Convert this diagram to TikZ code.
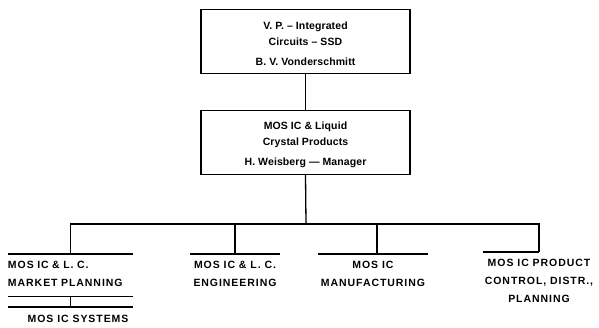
\documentclass[tikz,border=0pt]{standalone}
\usepackage{fontspec}
\newfontfamily\unitfont[LetterSpace=9]{Liberation Sans Bold}
\newfontfamily\headfont[LetterSpace=1]{Liberation Sans Bold}
\newcommand{\topstrut}{\rule{0pt}{13pt}}
\begin{document}
\begin{tikzpicture}[x=1pt,y=-1pt,
  every node/.style={inner sep=0pt},
  headbox/.style={draw, line width=1.3pt, minimum width=209pt, minimum height=64pt, align=center,
    font=\headfont\fontsize{10.5}{15.5}\selectfont},
  unit/.style={align=center, inner ysep=7pt, font=\unitfont\fontsize{10.5}{18}\selectfont},
  link/.style={line width=1.3pt}]
\useasboundingbox (0,0) rectangle (599,327);
\node[headbox] (vp) at (305.5,41.5) {\topstrut V. P. – Integrated\\Circuits – SSD\\[5pt]B. V. Vonderschmitt};
\node[headbox] (mos) at (305.5,142.5) {\topstrut MOS IC \& Liquid\\Crystal Products\\[5pt]H. Weisberg — Manager};
\coordinate (bus) at (306,224);
\node[unit, anchor=north, minimum width=125pt, text width=125pt, align=left] (mp) at (70.5,254) {MOS IC \& L. C.\\MARKET PLANNING};
\node[unit, anchor=north, minimum width=90pt] (eng) at (235,254) {MOS IC \& L. C.\\ENGINEERING};
\node[unit, anchor=north, minimum width=110pt] (mfg) at (373,254) {MOS IC\\MANUFACTURING};
\node[unit, anchor=north, minimum width=112pt] (pc) at (539,252) {MOS IC PRODUCT\\CONTROL, DISTR.,\\PLANNING};
\coordinate (syswest) at (8,307);
\coordinate (syseast) at (133,307);
\node[font=\unitfont\fontsize{10.5}{18}\selectfont] (sys) at (78,319) {MOS IC SYSTEMS};
% underlines
\draw[link] (mp.north west) -- (mp.north east);
\draw[link] ([yshift=-3pt]mp.south west) -- ([yshift=-3pt]mp.south east);
\draw[link] (syswest) -- (syseast);
\draw[link] (eng.north west) -- (eng.north east);
\draw[link] (mfg.north west) -- (mfg.north east);
\draw[link] (483,252 -| pc.north west) -- (pc.north);
% connectors
\draw[link] (vp.south) -- (mos.north);
\draw[link] (mos.south) -- (bus);
\draw[link] (mp.north) -- (mp.north |- bus) -- (pc.north |- bus) -- (pc.north);
\draw[link] (eng.north) -- (eng.north |- bus);
\draw[link] ([xshift=4pt]mfg.north) -- ([xshift=4pt]mfg.north |- bus);
\draw[link] ([yshift=-3pt]mp.south) -- (mp.south |- syswest);
\end{tikzpicture}
\end{document}
